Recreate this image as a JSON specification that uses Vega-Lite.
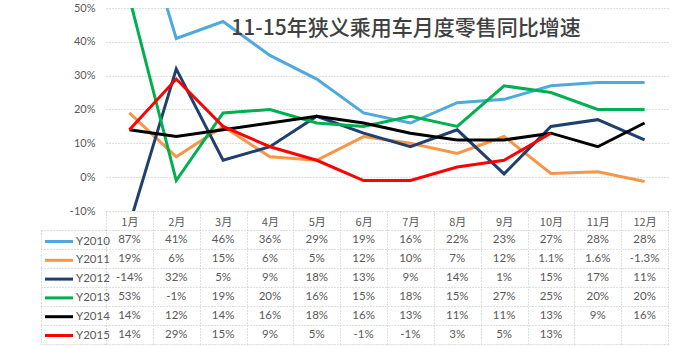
{
  "$schema": "https://vega.github.io/schema/vega-lite/v6.json",
  "padding": {"left": 40, "top": 2, "right": 5, "bottom": 0},
  "background": "white",
  "spacing": 19,
  "bounds": "flush",
  "config": {
    "locale": {"number": {"decimal": ".", "thousands": ",", "grouping": [3], "currency": ["", ""], "minus": "-"}},
    "view": {"stroke": null},
    "axis": {"labelColor": "#595959", "labelFontSize": 11, "labelFont": "Lato"}
  },
  "datasets": {
    "d": [
      {"s": "Y2010", "m": "1月", "v": 0.87}, {"s": "Y2010", "m": "2月", "v": 0.41}, {"s": "Y2010", "m": "3月", "v": 0.46}, {"s": "Y2010", "m": "4月", "v": 0.36}, {"s": "Y2010", "m": "5月", "v": 0.29}, {"s": "Y2010", "m": "6月", "v": 0.19}, {"s": "Y2010", "m": "7月", "v": 0.16}, {"s": "Y2010", "m": "8月", "v": 0.22}, {"s": "Y2010", "m": "9月", "v": 0.23}, {"s": "Y2010", "m": "10月", "v": 0.27}, {"s": "Y2010", "m": "11月", "v": 0.28}, {"s": "Y2010", "m": "12月", "v": 0.28},
      {"s": "Y2011", "m": "1月", "v": 0.19}, {"s": "Y2011", "m": "2月", "v": 0.06}, {"s": "Y2011", "m": "3月", "v": 0.15}, {"s": "Y2011", "m": "4月", "v": 0.06}, {"s": "Y2011", "m": "5月", "v": 0.05}, {"s": "Y2011", "m": "6月", "v": 0.12}, {"s": "Y2011", "m": "7月", "v": 0.10}, {"s": "Y2011", "m": "8月", "v": 0.07}, {"s": "Y2011", "m": "9月", "v": 0.12}, {"s": "Y2011", "m": "10月", "v": 0.011}, {"s": "Y2011", "m": "11月", "v": 0.016}, {"s": "Y2011", "m": "12月", "v": -0.013},
      {"s": "Y2012", "m": "1月", "v": -0.14}, {"s": "Y2012", "m": "2月", "v": 0.32}, {"s": "Y2012", "m": "3月", "v": 0.05}, {"s": "Y2012", "m": "4月", "v": 0.09}, {"s": "Y2012", "m": "5月", "v": 0.18}, {"s": "Y2012", "m": "6月", "v": 0.13}, {"s": "Y2012", "m": "7月", "v": 0.09}, {"s": "Y2012", "m": "8月", "v": 0.14}, {"s": "Y2012", "m": "9月", "v": 0.01}, {"s": "Y2012", "m": "10月", "v": 0.15}, {"s": "Y2012", "m": "11月", "v": 0.17}, {"s": "Y2012", "m": "12月", "v": 0.11},
      {"s": "Y2013", "m": "1月", "v": 0.53}, {"s": "Y2013", "m": "2月", "v": -0.01}, {"s": "Y2013", "m": "3月", "v": 0.19}, {"s": "Y2013", "m": "4月", "v": 0.20}, {"s": "Y2013", "m": "5月", "v": 0.16}, {"s": "Y2013", "m": "6月", "v": 0.15}, {"s": "Y2013", "m": "7月", "v": 0.18}, {"s": "Y2013", "m": "8月", "v": 0.15}, {"s": "Y2013", "m": "9月", "v": 0.27}, {"s": "Y2013", "m": "10月", "v": 0.25}, {"s": "Y2013", "m": "11月", "v": 0.20}, {"s": "Y2013", "m": "12月", "v": 0.20},
      {"s": "Y2014", "m": "1月", "v": 0.14}, {"s": "Y2014", "m": "2月", "v": 0.12}, {"s": "Y2014", "m": "3月", "v": 0.14}, {"s": "Y2014", "m": "4月", "v": 0.16}, {"s": "Y2014", "m": "5月", "v": 0.18}, {"s": "Y2014", "m": "6月", "v": 0.16}, {"s": "Y2014", "m": "7月", "v": 0.13}, {"s": "Y2014", "m": "8月", "v": 0.11}, {"s": "Y2014", "m": "9月", "v": 0.11}, {"s": "Y2014", "m": "10月", "v": 0.13}, {"s": "Y2014", "m": "11月", "v": 0.09}, {"s": "Y2014", "m": "12月", "v": 0.16},
      {"s": "Y2015", "m": "1月", "v": 0.14}, {"s": "Y2015", "m": "2月", "v": 0.29}, {"s": "Y2015", "m": "3月", "v": 0.15}, {"s": "Y2015", "m": "4月", "v": 0.09}, {"s": "Y2015", "m": "5月", "v": 0.05}, {"s": "Y2015", "m": "6月", "v": -0.01}, {"s": "Y2015", "m": "7月", "v": -0.01}, {"s": "Y2015", "m": "8月", "v": 0.03}, {"s": "Y2015", "m": "9月", "v": 0.05}, {"s": "Y2015", "m": "10月", "v": 0.13}
    ]
  },
  "vconcat": [
    {
      "width": 562,
      "height": 203,
      "data": {"name": "d"},
      "title": {"text": "11-15年狭义乘用车月度零售同比增速", "fontSize": 21, "color": "#404040", "font": "Noto Sans CJK SC", "fontWeight": 500, "anchor": "middle", "frame": "group", "dx": 19, "offset": -37},
      "mark": {"type": "line", "clip": true},
      "encoding": {
        "x": {
          "field": "m", "type": "ordinal",
          "sort": ["1月", "2月", "3月", "4月", "5月", "6月", "7月", "8月", "9月", "10月", "11月", "12月"],
          "scale": {"type": "band", "paddingInner": 0, "paddingOuter": 0},
          "bandPosition": 0.5,
          "axis": {"title": null, "domain": false, "labelAngle": 0, "tickBand": "extent", "tickSize": 19, "tickColor": "#bfbfbf", "tickDash": [1, 2], "labelPadding": -8, "labelBaseline": "middle", "labelFont": "Noto Sans CJK SC", "labelFontSize": 11}
        },
        "y": {
          "field": "v", "type": "quantitative",
          "scale": {"domain": [-0.1, 0.5], "nice": false, "zero": false},
          "axis": {"title": null, "format": ".0%", "values": [-0.1, 0, 0.1, 0.2, 0.3, 0.4, 0.5], "domain": false, "ticks": false, "labelPadding": 11, "gridColor": "#bfbfbf", "gridDash": [1, 2]}
        },
        "color": {
          "field": "s", "type": "nominal",
          "scale": {"domain": ["Y2010", "Y2011", "Y2012", "Y2013", "Y2014", "Y2015"], "range": ["#4FA9DC", "#F79646", "#1F3F6E", "#00B050", "#000000", "#FF0000"]},
          "legend": {"orient": "none", "legendX": -55.5, "legendY": 225, "title": null, "symbolType": "M-2,0H2", "symbolSize": 196, "symbolStrokeWidth": 3.5, "labelFont": "Lato", "labelFontSize": 11.5, "labelColor": "#595959", "labelOffset": 8.5, "rowPadding": 3.8, "padding": 0}
        },
        "strokeWidth": {
          "field": "s", "type": "nominal",
          "scale": {"domain": ["Y2010", "Y2011", "Y2012", "Y2013", "Y2014", "Y2015"], "range": [3, 3, 3, 3, 4, 4]},
          "legend": null
        }
      }
    },
    {
      "width": 562,
      "height": 114,
      "data": {"name": "d"},
      "mark": {"type": "text", "fontSize": 11.5, "color": "#595959", "font": "Lato"},
      "encoding": {
        "x": {
          "field": "m", "type": "ordinal",
          "sort": ["1月", "2月", "3月", "4月", "5月", "6月", "7月", "8月", "9月", "10月", "11月", "12月"],
          "scale": {"type": "band", "paddingInner": 0, "paddingOuter": 0},
          "bandPosition": 0.5,
          "axis": {"title": null, "labels": false, "ticks": false, "domain": false, "grid": true, "tickBand": "extent", "gridColor": "#bfbfbf", "gridDash": [1, 2]}
        },
        "y": {
          "field": "s", "type": "nominal",
          "scale": {"type": "band", "paddingInner": 0, "paddingOuter": 0},
          "bandPosition": 0.5,
          "axis": {"title": null, "labels": false, "offset": 65, "tickSize": -65, "tickBand": "extent", "tickColor": "#bfbfbf", "tickDash": [1, 2], "domainColor": "#bfbfbf", "domainDash": [1, 2], "grid": true, "gridColor": "#bfbfbf", "gridDash": [1, 2]}
        },
        "text": {"field": "v", "type": "quantitative", "format": ".2~%"}
      }
    }
  ]
}
